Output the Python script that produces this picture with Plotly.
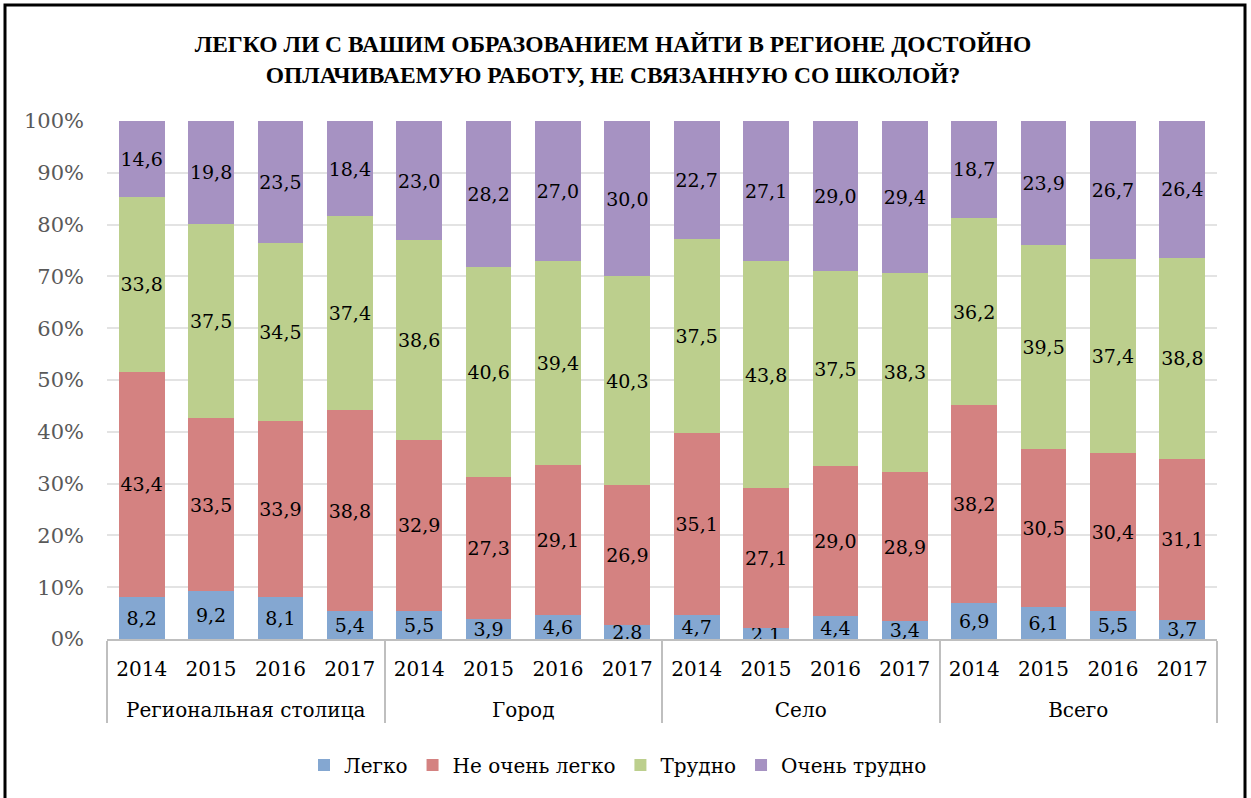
import plotly.graph_objects as go

groups = ["Региональная столица"] * 4 + ["Город"] * 4 + ["Село"] * 4 + ["Всего"] * 4
years = ["2014", "2015", "2016", "2017"] * 4

legko = [8.2, 9.2, 8.1, 5.4, 5.5, 3.9, 4.6, 2.8, 4.7, 2.1, 4.4, 3.4, 6.9, 6.1, 5.5, 3.7]
ne_ochen = [43.4, 33.5, 33.9, 38.8, 32.9, 27.3, 29.1, 26.9, 35.1, 27.1, 29.0, 28.9, 38.2, 30.5, 30.4, 31.1]
trudno = [33.8, 37.5, 34.5, 37.4, 38.6, 40.6, 39.4, 40.3, 37.5, 43.8, 37.5, 38.3, 36.2, 39.5, 37.4, 38.8]
ochen_trudno = [14.6, 19.8, 23.5, 18.4, 23.0, 28.2, 27.0, 30.0, 22.7, 27.1, 29.0, 29.4, 18.7, 23.9, 26.7, 26.4]

series = [
    ("Легко", legko, "#84A7D1"),
    ("Не очень легко", ne_ochen, "#D48281"),
    ("Трудно", trudno, "#BCCF8D"),
    ("Очень трудно", ochen_trudno, "#A692C2"),
]

FONT = "DejaVu Serif"
TFONT = "Liberation Serif"

# group labels pushed down one line (Excel-like gap between levels)
group_labels = ["<br>" + g for g in groups]

fig = go.Figure()
for name, vals, color in series:
    fig.add_trace(go.Bar(
        x=[group_labels, years],
        y=vals,
        name=name,
        marker=dict(color=color, line=dict(width=0)),
        text=[f"{v:.1f}".replace(".", ",") for v in vals],
        textposition="inside",
        insidetextanchor="middle",
        textangle=0,
        constraintext="none",
        textfont=dict(family=FONT, size=19, color="black"),
        hoverinfo="skip",
    ))

W, H = 1251, 798
L, R, T, B = 107, 34, 121, 159
pw, ph = W - L - R, H - T - B


def px(x):
    return (x - L) / pw


def py(y):
    return (H - B - y) / ph


fig.update_layout(
    width=W, height=H,
    barmode="stack",
    barnorm="percent",
    bargap=0.34,
    margin=dict(l=L, r=R, t=T, b=B, autoexpand=False),
    paper_bgcolor="white",
    plot_bgcolor="white",
    title=dict(
        text="ЛЕГКО ЛИ С ВАШИМ ОБРАЗОВАНИЕМ НАЙТИ В РЕГИОНЕ ДОСТОЙНО<br>ОПЛАЧИВАЕМУЮ РАБОТУ, НЕ СВЯЗАННУЮ СО ШКОЛОЙ?",
        x=613 / W, xref="container", xanchor="center",
        y=1 - 52 / H, yref="container", yanchor="middle",
        font=dict(family=TFONT, size=23.5, color="black", weight="bold"),
    ),
    font=dict(family=FONT, size=20, color="black"),
    legend=dict(
        orientation="h",
        x=px(618), xanchor="center",
        y=py(765), yanchor="middle",
        font=dict(family=FONT, size=20, color="black"),
        traceorder="normal",
        itemwidth=30,
    ),
    showlegend=True,
)

fig.update_yaxes(
    range=[0, 100],
    dtick=10,
    ticksuffix="%",
    tickfont=dict(family=FONT, size=21, color="#595959"),
    gridcolor="#E3E3E3",
    gridwidth=1.5,
    zeroline=False,
    showline=False,
    ticks="",
    ticklabelstandoff=22,
)

fig.update_xaxes(
    type="multicategory",
    showline=True,
    linecolor="#BFBFBF",
    linewidth=1.5,
    showdividers=True,
    dividercolor="#BFBFBF",
    dividerwidth=1.5,
    tickfont=dict(family=FONT, size=20, color="black"),
    ticklabelstandoff=11,
    showgrid=False,
)

fig.add_shape(
    type="rect", xref="paper", yref="paper",
    x0=px(5), x1=px(1245), y0=py(810), y1=py(5),
    line=dict(color="black", width=3),
    fillcolor="rgba(0,0,0,0)",
    layer="above",
)

fig.write_html(
    "out.html",
    config={"displayModeBar": False},
    post_script="document.body.style.margin='0';document.body.style.overflow='hidden';",
)
